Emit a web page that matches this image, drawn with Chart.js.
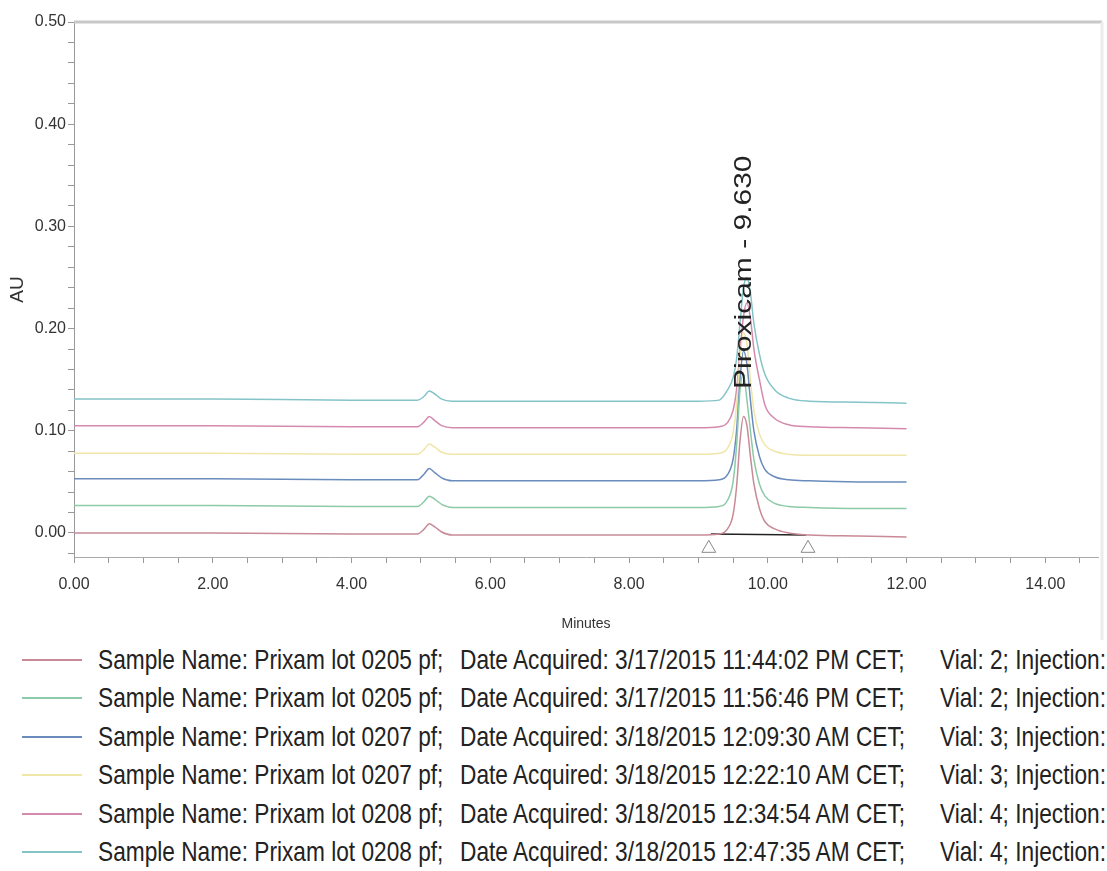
<!DOCTYPE html>
<html>
<head>
<meta charset="utf-8">
<script src="https://cdn.jsdelivr.net/npm/chart.js@4.4.1/dist/chart.umd.min.js"></script>
<style>
  body { margin: 0; background: #fff; }
  #wrap { position: relative; width: 1107px; height: 640px; }
  #legend { position: absolute; top: 641px; left: 0; width: 1107px; overflow: hidden;
            font-family: "Liberation Sans", Arial, sans-serif;
            font-size: 28px; color: #222; }
  .row { position: relative; height: 38.4px; line-height: 38.4px; white-space: nowrap; }
  .row .swatch { position: absolute; left: 22px; top: 18px; width: 60px; height: 2px; }
  .row span { position: absolute; transform: scaleX(0.81); transform-origin: left center; }
</style>
</head>
<body>
<div id="wrap"><canvas id="chrom"></canvas></div>
<div id="legend"></div>
<script>
// retention time axis (minutes), shared by every trace
const minutes = [0, 2.0, 4.0, 4.95, 5.05, 5.12, 5.2, 5.3, 5.45, 7.0, 9.0, 9.3, 9.42, 9.5, 9.55, 9.6, 9.65, 9.7, 9.75, 9.8, 9.88, 9.96, 10.1, 10.3, 10.6, 11.3, 12.0];

// AU values for each injection, offset overlays as in the reference
const run1 = [0.000, 0.000, -0.001, -0.001, 0.004, 0.009, 0.006, 0.001, -0.002, -0.002, -0.002, -0.001, 0.004, 0.018, 0.045, 0.090, 0.114, 0.105, 0.075, 0.048, 0.024, 0.011, 0.004, 0.000, -0.002, -0.003, -0.004];
const run2 = [0.027, 0.027, 0.026, 0.026, 0.031, 0.036, 0.033, 0.028, 0.025, 0.025, 0.025, 0.026, 0.032, 0.050, 0.085, 0.140, 0.155, 0.130, 0.100, 0.072, 0.048, 0.036, 0.029, 0.026, 0.025, 0.024, 0.024];
const run3 = [0.053, 0.053, 0.052, 0.052, 0.058, 0.063, 0.059, 0.054, 0.051, 0.051, 0.051, 0.052, 0.057, 0.072, 0.100, 0.150, 0.178, 0.165, 0.130, 0.100, 0.075, 0.062, 0.055, 0.052, 0.051, 0.050, 0.050];
const run4 = [0.078, 0.078, 0.077, 0.077, 0.082, 0.087, 0.084, 0.079, 0.077, 0.077, 0.077, 0.078, 0.083, 0.098, 0.125, 0.172, 0.196, 0.185, 0.150, 0.120, 0.097, 0.086, 0.080, 0.077, 0.076, 0.076, 0.076];
const run5 = [0.105, 0.105, 0.104, 0.104, 0.109, 0.114, 0.110, 0.105, 0.103, 0.103, 0.103, 0.104, 0.108, 0.120, 0.140, 0.178, 0.212, 0.225, 0.210, 0.180, 0.150, 0.125, 0.112, 0.106, 0.104, 0.103, 0.102];
const run6 = [0.131, 0.131, 0.130, 0.130, 0.134, 0.139, 0.136, 0.131, 0.129, 0.129, 0.129, 0.130, 0.140, 0.152, 0.170, 0.205, 0.240, 0.250, 0.235, 0.205, 0.175, 0.155, 0.140, 0.132, 0.129, 0.128, 0.127];

const sampleNames = ["Prixam lot 0205 pf", "Prixam lot 0205 pf", "Prixam lot 0207 pf", "Prixam lot 0207 pf", "Prixam lot 0208 pf", "Prixam lot 0208 pf"];
const acquired = ["3/17/2015 11:44:02 PM CET", "3/17/2015 11:56:46 PM CET", "3/18/2015 12:09:30 AM CET", "3/18/2015 12:22:10 AM CET", "3/18/2015 12:34:54 AM CET", "3/18/2015 12:47:35 AM CET"];
const vials = [2, 2, 3, 3, 4, 4];
const colors = ["#c88a96", "#8ccaa8", "#6a8cbc", "#f0e6a8", "#d48aae", "#84c4c8"];

// integration baseline of the Piroxicam peak and its start/end markers
const peakBaseline = [[9.18, -0.001], [10.55, -0.002]];
const peakMarkers = [[9.15, -0.015], [10.58, -0.015]];
const peakLabel = "Piroxicam - 9.630";
const peakLabelAt = [9.66, 0.141];

// axis ticks
const xMajor = ["0.00", "2.00", "4.00", "6.00", "8.00", "10.00", "12.00", "14.00"];
const yMajor = ["0.00", "0.10", "0.20", "0.30", "0.40", "0.50"];

const runs = [run1, run2, run3, run4, run5, run6];

const xTicks = [];
for (let i = 0; i <= 29; i++) xTicks.push(i * 0.5);
const yTicks = [];
for (let i = -1; i <= 25; i++) yTicks.push(Math.round(i * 2) / 100);

const sans = "'Liberation Sans', Arial, sans-serif";

const datasets = runs.map((r, k) => ({
    label: sampleNames[k],
    data: minutes.map((t, i) => ({ x: t, y: r[i] })),
    borderColor: colors[k],
    borderWidth: 1.5,
    pointRadius: 0,
    cubicInterpolationMode: "monotone"
}));

datasets.push({
    label: "baseline",
    data: peakBaseline.map(p => ({ x: p[0], y: p[1] })),
    borderColor: "#222",
    borderWidth: 1.5,
    pointRadius: 0
});
datasets.push({
    label: "markers",
    data: peakMarkers.map(p => ({ x: p[0], y: p[1] })),
    showLine: false,
    pointStyle: "triangle",
    pointRadius: 8,
    backgroundColor: "rgba(255,255,255,0)",
    borderColor: "#888",
    borderWidth: 1
});

const decorations = {
    id: "decorations",
    afterDatasetsDraw(chart) {
        const { ctx, chartArea, scales } = chart;
        ctx.save();
        // top frame line
        ctx.strokeStyle = "#c8c8c8";
        ctx.lineWidth = 3;
        ctx.beginPath();
        ctx.moveTo(chartArea.left, chartArea.top);
        ctx.lineTo(chartArea.right + 4, chartArea.top);
        ctx.stroke();
        // faint right border
        ctx.strokeStyle = "#ececec";
        ctx.beginPath();
        ctx.moveTo(chartArea.right + 4, chartArea.top);
        ctx.lineTo(chartArea.right + 4, chart.height);
        ctx.stroke();
        // peak label, rotated
        const x = scales.x.getPixelForValue(peakLabelAt[0]);
        const y = scales.y.getPixelForValue(peakLabelAt[1]);
        ctx.translate(x, y);
        ctx.scale(0.77, 1);
        ctx.rotate(-Math.PI / 2);
        ctx.fillStyle = "#222";
        ctx.font = "30px " + sans;
        ctx.textAlign = "left";
        ctx.textBaseline = "middle";
        ctx.fillText(peakLabel, 0, 0);
        ctx.restore();
    }
};

new Chart(document.getElementById("chrom"), {
    type: "line",
    data: { datasets },
    options: {
        responsive: true,
        maintainAspectRatio: false,
        animation: false,
        devicePixelRatio: 1,
        layout: { padding: { top: 22, right: 7, left: 0, bottom: 0 } },
        plugins: { legend: { display: false }, tooltip: { enabled: false } },
        scales: {
            x: {
                type: "linear",
                min: 0,
                max: 14.76,
                afterBuildTicks: s => { s.ticks = xTicks.map(v => ({ value: v })); },
                afterFit: s => { s.height = 83; },
                grid: { drawOnChartArea: false, tickLength: 6, tickColor: "#999" },
                border: { color: "#aaa", width: 1 },
                ticks: {
                    autoSkip: false,
                    maxRotation: 0,
                    padding: 12,
                    color: "#333",
                    font: { family: sans, size: 16 },
                    callback: v => (Math.abs(v % 2) < 1e-9 ? xMajor[Math.round(v / 2)] : "")
                },
                title: {
                    display: true,
                    text: "Minutes",
                    color: "#333",
                    font: { family: sans, size: 14 },
                    padding: { top: 4, bottom: 7 }
                }
            },
            y: {
                min: -0.0235,
                max: 0.50,
                afterBuildTicks: s => { s.ticks = yTicks.map(v => ({ value: v })); },
                afterFit: s => { s.width = 74; },
                grid: { drawOnChartArea: false, tickLength: 6, tickColor: "#999" },
                border: { color: "#999", width: 1 },
                ticks: {
                    autoSkip: false,
                    padding: 2,
                    color: "#333",
                    font: { family: sans, size: 16 },
                    callback: v => {
                        const k = Math.round(v * 100);
                        return k >= 0 && k % 10 === 0 ? yMajor[k / 10] : "";
                    }
                },
                title: {
                    display: true,
                    text: "AU",
                    color: "#333",
                    font: { family: sans, size: 19 },
                    padding: { top: 6, bottom: 0 }
                }
            }
        }
    },
    plugins: [decorations]
});

// legend rows under the plot
const legend = document.getElementById("legend");
sampleNames.forEach((name, k) => {
    const row = document.createElement("div");
    row.className = "row";
    row.innerHTML =
        '<div class="swatch" style="background:' + colors[k] + '"></div>' +
        '<span style="left:98px">Sample Name: ' + name + ';</span>' +
        '<span style="left:460px">Date Acquired: ' + acquired[k] + ';</span>' +
        '<span style="left:940px">Vial: ' + vials[k] + '; Injection:</span>';
    legend.appendChild(row);
});
</script>
</body>
</html>
